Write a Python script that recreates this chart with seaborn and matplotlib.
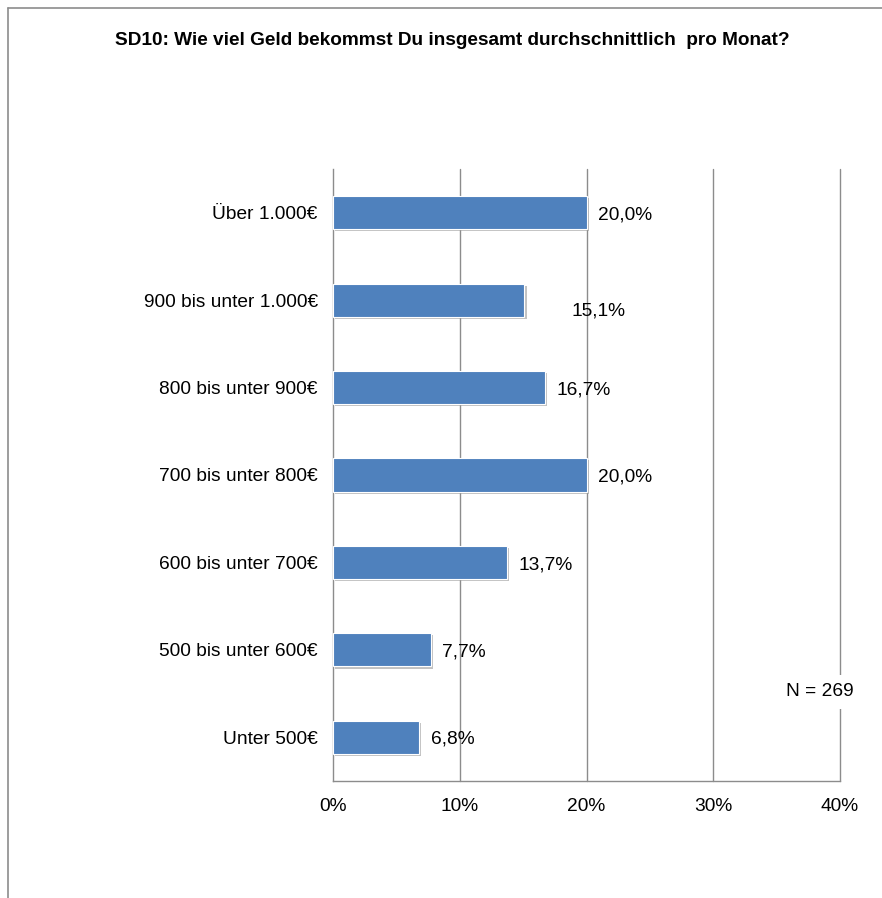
import matplotlib
matplotlib.use("Agg")
import matplotlib.pyplot as plt
import matplotlib.patheffects as pe
from matplotlib.lines import Line2D
import seaborn as sns
import pandas as pd

categories = [
    "Über 1.000€",
    "900 bis unter 1.000€",
    "800 bis unter 900€",
    "700 bis unter 800€",
    "600 bis unter 700€",
    "500 bis unter 600€",
    "Unter 500€",
]
values = [20.0, 15.1, 16.7, 20.0, 13.7, 7.7, 6.8]
value_labels = ["20,0%", "15,1%", "16,7%", "20,0%", "13,7%", "7,7%", "6,8%"]
x_ticks = [0, 10, 20, 30, 40]
x_tick_labels = ["0%", "10%", "20%", "30%", "40%"]
title = "SD10: Wie viel Geld bekommst Du insgesamt durchschnittlich  pro Monat?"
note = "N = 269"

sns.set_theme(style="white")
plt.rcParams["font.family"] = ["Liberation Sans", "DejaVu Sans"]
plt.rcParams["text.color"] = "black"
plt.rcParams["xtick.color"] = "black"
plt.rcParams["ytick.color"] = "black"

df = pd.DataFrame({"Kategorie": categories, "Anteil": values})

fig = plt.figure(figsize=(8.82, 8.98), dpi=100)
ax = fig.add_axes([0.3776, 0.1303, 0.5748, 0.6815])

sns.barplot(data=df, x="Anteil", y="Kategorie", order=categories,
            color="#4F81BD", saturation=1, width=0.38, ax=ax, zorder=3,
            edgecolor="white", linewidth=0.8)

for patch in ax.patches:
    patch.set_path_effects([
        pe.SimplePatchShadow(offset=(1.5, -1.5), shadow_rgbFace="#9a9a9a", alpha=0.6),
        pe.Normal(),
    ])

ax.set_xlim(0, 40)
ax.set_ylim(len(categories) - 0.5, -0.5)
ax.set_xticks(x_ticks)
ax.set_xticklabels(x_tick_labels, fontsize=13.8)
ax.tick_params(axis="y", labelsize=13.8, length=0, pad=11)
ax.tick_params(axis="x", length=0, pad=12)
ax.set_xlabel("")
ax.set_ylabel("")

ax.xaxis.grid(False)
ax.yaxis.grid(False)
for t in x_ticks[1:]:
    ax.axvline(t, color="#8c8c8c", linewidth=1.0, zorder=0, clip_on=False)
for side in ["top", "right"]:
    ax.spines[side].set_visible(False)
for side in ["left", "bottom"]:
    ax.spines[side].set_color("#8c8c8c")
    ax.spines[side].set_linewidth(1.0)

# value labels next to the bars (offsets in points)
label_offsets = [(8.5, -1.5), (34, -7.5), (8.5, -1.5), (8.5, -1.5), (8.5, -1.5),
                 (8.5, -1.5), (8.5, -1.5)]
for i, (v, lab) in enumerate(zip(values, value_labels)):
    dx, dy = label_offsets[i]
    ax.annotate(lab, xy=(v, i), xytext=(dx, dy), textcoords="offset points",
                ha="left", va="center", fontsize=13.8, color="black", zorder=5)

ax.text(38.4, 5.48, note, ha="center", va="center", fontsize=13.8, zorder=6,
        bbox=dict(facecolor="white", edgecolor="none", pad=6))

fig.text(0.513, 0.955, title, ha="center", va="center", fontsize=13.7,
         fontweight="bold")

# outer frame (left and top edges)
fig.add_artist(Line2D([8 / 882, 8 / 882], [0, 1 - 8 / 898],
                      transform=fig.transFigure, color="#8c8c8c", linewidth=1.2))
fig.add_artist(Line2D([8 / 882, 1], [1 - 8 / 898, 1 - 8 / 898],
                      transform=fig.transFigure, color="#8c8c8c", linewidth=1.2))

fig.savefig("out.png", dpi=100, facecolor="white")
